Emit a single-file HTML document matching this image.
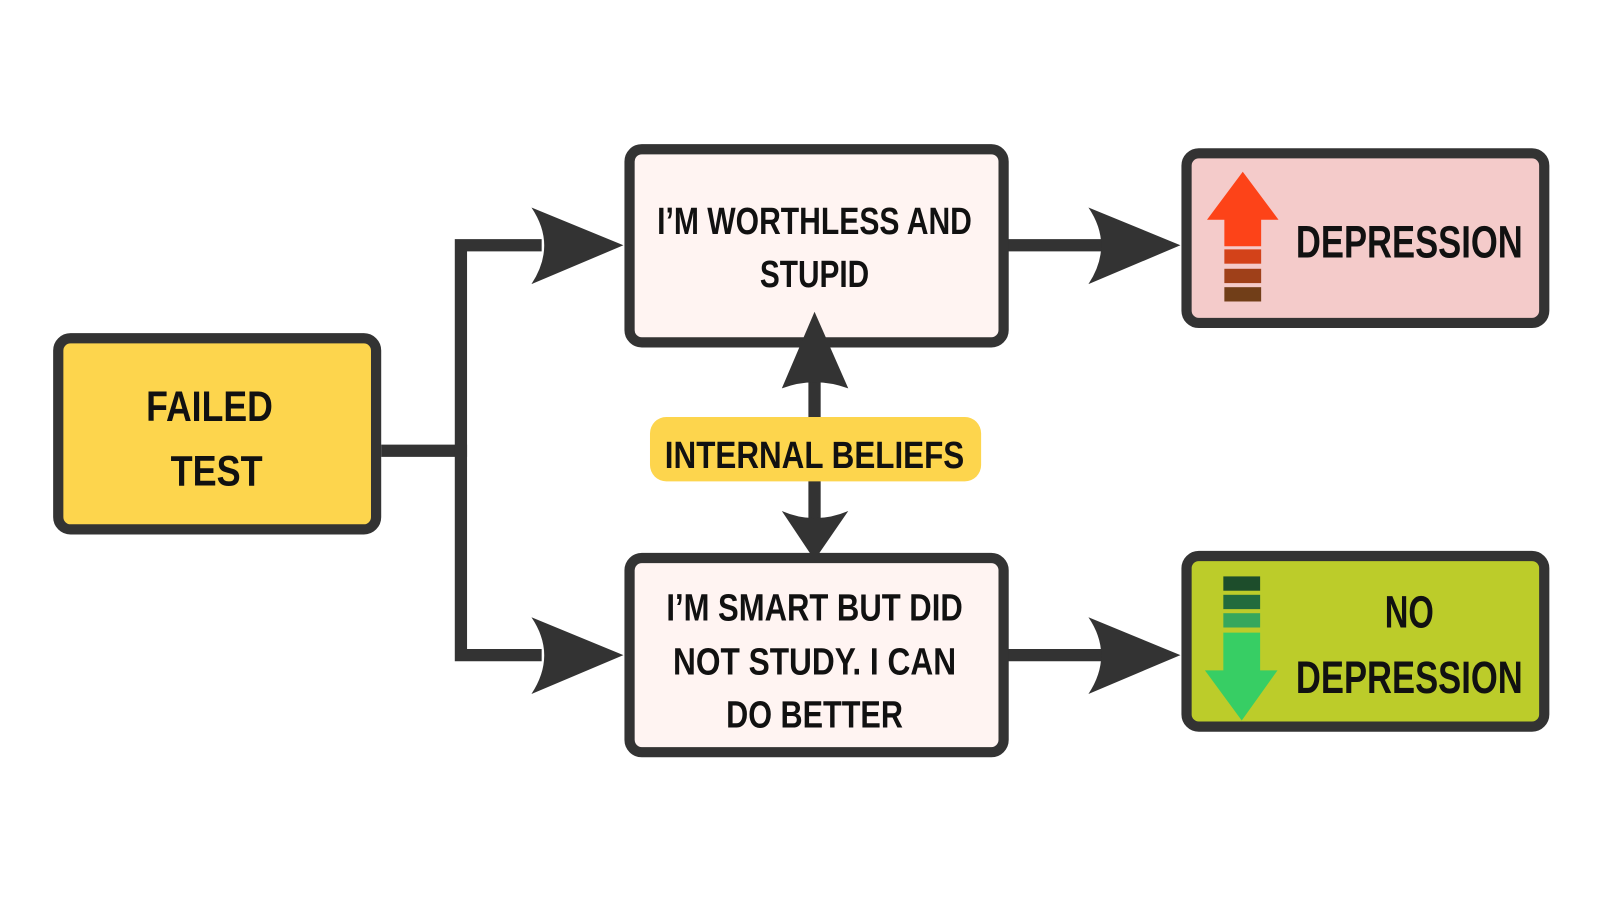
<!DOCTYPE html>
<html><head><meta charset="utf-8"><style>
html,body{margin:0;padding:0;background:#fff;}
svg text{font-family:"Liberation Sans",sans-serif;font-weight:bold;fill:#111;text-anchor:middle;}
</style></head><body>
<svg width="1600" height="900" viewBox="0 0 1600 900" xmlns="http://www.w3.org/2000/svg">
<g transform="scale(1.022)">
<g stroke="#333" stroke-width="12" fill="none">
  <line x1="373" y1="441" x2="457" y2="441"/>
  <polyline points="530,240 451,240 451,641 530,641"/>
  <line x1="985" y1="240" x2="1080" y2="240"/>
  <line x1="985" y1="641" x2="1080" y2="641"/>
  <line x1="797" y1="360" x2="797" y2="530"/>
</g>
<g fill="#333">
  <path d="M610,240 L520,203 Q545,240 520,278 Z"/>
  <path d="M610,641 L520,604 Q545,641 520,679 Z"/>
  <path d="M1155,240 L1065,203 Q1090,240 1065,278 Z"/>
  <path d="M1155,641 L1065,604 Q1090,641 1065,679 Z"/>
</g>
<rect x="57" y="331" width="311" height="187" rx="12" fill="#fdd54d" stroke="#333" stroke-width="10"/>
<rect x="616" y="146" width="366" height="189" rx="12" fill="#fff4f2" stroke="#333" stroke-width="10"/>
<rect x="616" y="546" width="366" height="190" rx="12" fill="#fff4f2" stroke="#333" stroke-width="10"/>
<rect x="1161" y="150" width="350" height="166" rx="12" fill="#f4cbca" stroke="#333" stroke-width="10"/>
<rect x="1161" y="544" width="350" height="167" rx="12" fill="#bccc2a" stroke="#333" stroke-width="10"/>
<g fill="#333">
  <path d="M797,305 L765,380 Q797,368 830,380 Z"/>
  <path d="M797,548 L765,500 Q797,514 830,500 Z"/>
</g>
<rect x="636" y="408" width="324" height="63" rx="16" fill="#fdd54d"/>
<path d="M1216,168 L1251,215 L1234,215 L1234,241 L1198,241 L1198,215 L1181,215 Z" fill="#fd4318"/>
<rect x="1198" y="244" width="36" height="14" fill="#d34219"/>
<rect x="1198" y="263" width="36" height="14" fill="#9f4019"/>
<rect x="1198" y="281" width="36" height="14" fill="#713e18"/>
<rect x="1197" y="564" width="36" height="14" fill="#1d4d2b"/>
<rect x="1197" y="582" width="36" height="14" fill="#226b3d"/>
<rect x="1197" y="600" width="36" height="14" fill="#35a75c"/>
<path d="M1197,619 L1233,619 L1233,656 L1250,656 L1215,705 L1179,656 L1197,656 Z" fill="#37ce64"/>
<g font-size="42" lengthAdjust="spacingAndGlyphs">
  <text x="205" y="412" textLength="124" lengthAdjust="spacingAndGlyphs">FAILED</text>
  <text x="212" y="475" textLength="90" lengthAdjust="spacingAndGlyphs">TEST</text>
</g>
<g font-size="37">
  <text x="797" y="229" textLength="308" lengthAdjust="spacingAndGlyphs">I’M WORTHLESS AND</text>
  <text x="797" y="281" textLength="107" lengthAdjust="spacingAndGlyphs">STUPID</text>
  <text x="797" y="607" textLength="290" lengthAdjust="spacingAndGlyphs">I’M SMART BUT DID</text>
  <text x="797" y="660" textLength="277" lengthAdjust="spacingAndGlyphs">NOT STUDY. I CAN</text>
  <text x="797" y="712" textLength="173" lengthAdjust="spacingAndGlyphs">DO BETTER</text>
  <text x="797" y="458" textLength="293" lengthAdjust="spacingAndGlyphs">INTERNAL BELIEFS</text>
</g>
<g font-size="44">
  <text x="1379" y="252" textLength="222" lengthAdjust="spacingAndGlyphs">DEPRESSION</text>
  <text x="1379" y="614" textLength="48" lengthAdjust="spacingAndGlyphs">NO</text>
  <text x="1379" y="678" textLength="222" lengthAdjust="spacingAndGlyphs">DEPRESSION</text>
</g>
</g>
</svg>
</body></html>
